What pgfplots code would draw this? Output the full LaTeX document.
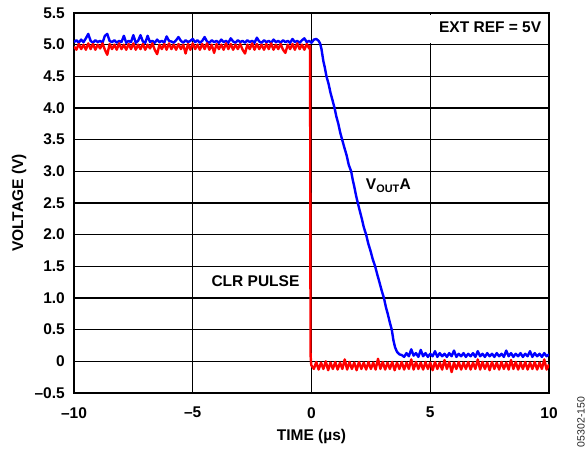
\documentclass[border=0pt]{standalone}
\usepackage{pgfplots}
\pgfplotsset{compat=1.18}
\usepackage{fontspec}
\setmainfont{Liberation Sans}
\newcommand\lbl{\fontsize{15.5}{18}\selectfont\bfseries}

\pgfplotstableread{
x y
-10.0 5.04
-9.9 5.07
-9.8 5.03
-9.7 5.08
-9.6 5.04
-9.5 5.10
-9.4 5.17
-9.3 5.06
-9.2 5.03
-9.1 5.07
-9.0 5.04
-8.9 5.06
-8.8 5.03
-8.7 5.14
-8.6 5.17
-8.5 5.06
-8.4 5.04
-8.3 5.07
-8.2 5.03
-8.1 5.06
-8.0 5.04
-7.9 5.14
-7.8 5.03
-7.7 5.06
-7.6 5.04
-7.5 5.15
-7.4 5.03
-7.3 5.06
-7.2 5.15
-7.1 5.05
-7.0 5.03
-6.9 5.14
-6.8 5.04
-6.7 5.06
-6.6 5.03
-6.5 5.08
-6.4 5.04
-6.3 5.06
-6.2 5.03
-6.1 5.13
-6.0 5.06
-5.9 5.05
-5.8 5.03
-5.7 5.07
-5.6 5.12
-5.5 5.06
-5.4 5.03
-5.3 5.07
-5.2 5.04
-5.1 5.06
-5.0 5.09
-4.9 5.04
-4.8 5.07
-4.7 5.03
-4.6 5.06
-4.5 5.12
-4.4 5.05
-4.3 5.03
-4.2 5.07
-4.1 5.04
-4.0 5.06
-3.9 5.03
-3.8 5.08
-3.7 5.04
-3.6 5.06
-3.5 5.03
-3.4 5.10
-3.3 5.05
-3.2 5.03
-3.1 5.07
-3.0 5.04
-2.9 5.06
-2.8 5.03
-2.7 5.07
-2.6 5.04
-2.5 5.06
-2.4 5.03
-2.3 5.11
-2.2 5.05
-2.1 5.03
-2.0 5.07
-1.9 5.04
-1.8 5.06
-1.7 5.03
-1.6 5.08
-1.5 5.04
-1.4 5.06
-1.3 5.03
-1.2 5.07
-1.1 5.04
-1.0 5.06
-0.9 5.03
-0.8 5.09
-0.7 5.04
-0.6 5.06
-0.5 5.03
-0.4 5.07
-0.3 5.10
-0.2 5.04
-0.1 5.06
0.0 5.03
0.1 5.08
0.2 5.09
0.3 5.06
0.36 5.02
0.42 4.93
0.5 4.74
0.56 4.64
0.63 4.50
0.72 4.38
0.8 4.24
0.88 4.13
0.97 4.00
1.05 3.86
1.13 3.75
1.21 3.61
1.29 3.50
1.38 3.38
1.48 3.25
1.57 3.10
1.67 3.00
1.74 2.86
1.80 2.76
1.88 2.61
1.95 2.50
2.03 2.38
2.12 2.25
2.20 2.12
2.30 2.00
2.39 1.86
2.48 1.75
2.58 1.61
2.68 1.50
2.77 1.37
2.86 1.25
2.96 1.11
3.05 1.00
3.13 0.86
3.21 0.75
3.30 0.61
3.38 0.50
3.45 0.33
3.52 0.22
3.60 0.15
3.70 0.11
3.8 0.10
3.9 0.07
4.0 0.13
4.1 0.08
4.2 0.19
4.3 0.09
4.4 0.13
4.5 0.07
4.6 0.18
4.7 0.08
4.8 0.13
4.9 0.07
5.0 0.12
5.1 0.08
5.2 0.16
5.3 0.07
5.4 0.13
5.5 0.08
5.6 0.12
5.7 0.07
5.8 0.13
5.9 0.08
6.0 0.17
6.1 0.07
6.2 0.12
6.3 0.08
6.4 0.13
6.5 0.07
6.6 0.12
6.7 0.08
6.8 0.13
6.9 0.07
7.0 0.16
7.1 0.08
7.2 0.12
7.3 0.07
7.4 0.13
7.5 0.08
7.6 0.12
7.7 0.07
7.8 0.13
7.9 0.08
8.0 0.12
8.1 0.07
8.2 0.17
8.3 0.08
8.4 0.13
8.5 0.07
8.6 0.12
8.7 0.08
8.8 0.13
8.9 0.07
9.0 0.12
9.1 0.08
9.2 0.16
9.3 0.07
9.4 0.13
9.5 0.08
9.6 0.12
9.7 0.07
9.8 0.13
9.9 0.08
10.0 0.11
}\bluedata

\pgfplotstableread{
x y
-10.0 4.97
-9.9 4.92
-9.8 5.01
-9.7 4.93
-9.6 5.00
-9.5 4.92
-9.4 5.02
-9.3 4.93
-9.2 5.01
-9.1 4.92
-9.0 5.00
-8.9 4.94
-8.8 5.02
-8.7 4.92
-8.6 4.84
-8.5 5.01
-8.4 4.93
-8.3 5.00
-8.2 4.92
-8.1 5.02
-8.0 4.93
-7.9 5.00
-7.8 4.92
-7.7 5.01
-7.6 4.93
-7.5 5.02
-7.4 4.92
-7.3 5.00
-7.2 4.93
-7.1 5.01
-7.0 4.92
-6.9 5.00
-6.8 4.94
-6.7 5.02
-6.6 4.92
-6.5 4.85
-6.4 5.00
-6.3 4.93
-6.2 5.01
-6.1 4.92
-6.0 5.02
-5.9 4.93
-5.8 5.00
-5.7 4.92
-5.6 5.01
-5.5 4.93
-5.4 5.00
-5.3 4.86
-5.2 5.01
-5.1 4.92
-5.0 5.02
-4.9 4.93
-4.8 5.00
-4.7 4.92
-4.6 5.01
-4.5 4.93
-4.4 5.02
-4.3 4.92
-4.2 5.00
-4.1 4.87
-4.0 5.01
-3.9 4.93
-3.8 5.00
-3.7 4.92
-3.6 5.02
-3.5 4.93
-3.4 5.01
-3.3 4.92
-3.2 5.00
-3.1 4.93
-3.0 5.01
-2.9 4.92
-2.8 4.86
-2.7 5.00
-2.6 4.93
-2.5 5.02
-2.4 4.92
-2.3 5.01
-2.2 4.93
-2.1 5.00
-2.0 4.92
-1.9 5.01
-1.8 4.93
-1.7 5.02
-1.6 4.92
-1.5 5.00
-1.4 4.93
-1.3 5.01
-1.2 4.92
-1.1 4.87
-1.0 5.00
-0.9 4.93
-0.8 5.01
-0.7 4.92
-0.6 5.02
-0.5 4.93
-0.4 5.00
-0.3 4.92
-0.2 5.01
-0.1 4.94
-0.06 4.98
-0.05 2.50
-0.04 0.10
-0.01 -0.06
0.1 -0.12
0.2 -0.01
0.3 -0.13
0.4 -0.02
0.5 -0.12
0.6 -0.00
0.7 -0.14
0.8 -0.02
0.9 -0.12
1.0 -0.01
1.1 -0.13
1.2 -0.02
1.3 -0.12
1.4 0.03
1.5 -0.13
1.6 -0.01
1.7 -0.12
1.8 -0.02
1.9 -0.14
2.0 -0.01
2.1 -0.12
2.2 -0.02
2.3 -0.13
2.4 -0.01
2.5 -0.12
2.6 -0.02
2.7 -0.13
2.8 0.04
2.9 -0.12
3.0 -0.01
3.1 -0.13
3.2 -0.02
3.3 -0.12
3.4 -0.01
3.5 -0.14
3.6 -0.02
3.7 -0.12
3.8 -0.01
3.9 -0.13
4.0 -0.02
4.1 -0.12
4.2 0.03
4.3 -0.13
4.4 -0.01
4.5 -0.12
4.6 -0.02
4.7 -0.13
4.8 -0.01
4.9 -0.12
5.0 -0.02
5.1 -0.14
5.2 -0.01
5.3 -0.12
5.4 -0.02
5.5 -0.13
5.6 0.02
5.7 -0.12
5.8 -0.01
5.9 -0.17
6.0 -0.02
6.1 -0.12
6.2 -0.01
6.3 -0.13
6.4 -0.02
6.5 -0.12
6.6 -0.01
6.7 -0.13
6.8 -0.02
6.9 -0.12
7.0 0.03
7.1 -0.13
7.2 -0.01
7.3 -0.12
7.4 -0.02
7.5 -0.14
7.6 -0.01
7.7 -0.12
7.8 -0.02
7.9 -0.13
8.0 -0.01
8.1 -0.12
8.2 -0.02
8.3 -0.13
8.4 0.02
8.5 -0.12
8.6 -0.01
8.7 -0.13
8.8 -0.02
8.9 -0.12
9.0 -0.01
9.1 -0.13
9.2 -0.02
9.3 -0.12
9.4 -0.01
9.5 -0.13
9.6 -0.02
9.7 -0.12
9.8 0.03
9.9 -0.13
10.0 -0.05
}\reddata

\begin{document}
\begin{tikzpicture}
\begin{axis}[
  name=ax,
  width=475pt, height=380pt, scale only axis,
  xmin=-10, xmax=10, ymin=-0.5, ymax=5.5,
  xtick={-10,-5,0,5,10},
  xticklabels={\textendash10,\textendash5,0,5,10},
  ytick={-0.5,0,0.5,1,1.5,2,2.5,3,3.5,4,4.5,5,5.5},
  yticklabels={\textendash0.5,0,0.5,1.0,1.5,2.0,2.5,3.0,3.5,4.0,4.5,5.0,5.5},
  grid=major,
  major grid style={black, line width=1.1pt},
  major tick length=0pt,
  axis line style={black, line width=1.6pt},
  tick label style={font=\lbl, inner sep=0pt},
  yticklabel style={xshift=-9pt},
  xticklabel style={yshift=-14pt},
  xlabel={TIME (µs)},
  ylabel={VOLTAGE (V)},
  label style={font=\lbl},
  xlabel style={at={(axis description cs:0.5,-0.1145)}, anchor=center},
  ylabel style={at={(axis description cs:-0.1158,0.5)}, anchor=center},
]
\addplot[blue, line width=2.4pt, line join=round] table[x=x,y=y] {\bluedata};
\addplot[red, line width=2.4pt, line join=round] table[x=x,y=y] {\reddata};
\fill[white] (axis cs:4.55,5.03) rectangle (axis cs:9.95,5.47);
\node[font=\lbl, anchor=east, inner sep=0pt] at (axis cs:9.68,5.27) {EXT REF = 5V};
\node[font=\lbl] at (axis cs:3.24,2.77) {V\textsubscript{OUT}A};
\node[font=\lbl] at (axis cs:-2.36,1.27) {CLR PULSE};
\end{axis}
\node[rotate=90, font=\fontsize{10.5}{12}\selectfont, text=black!85] at ([shift={(32pt,-29pt)}]ax.south east) {05302-150};
\pgfresetboundingbox
\path ([shift={(-74pt,-58pt)}]ax.south west) rectangle ([shift={(37pt,13pt)}]ax.north east);
\end{tikzpicture}
\end{document}
